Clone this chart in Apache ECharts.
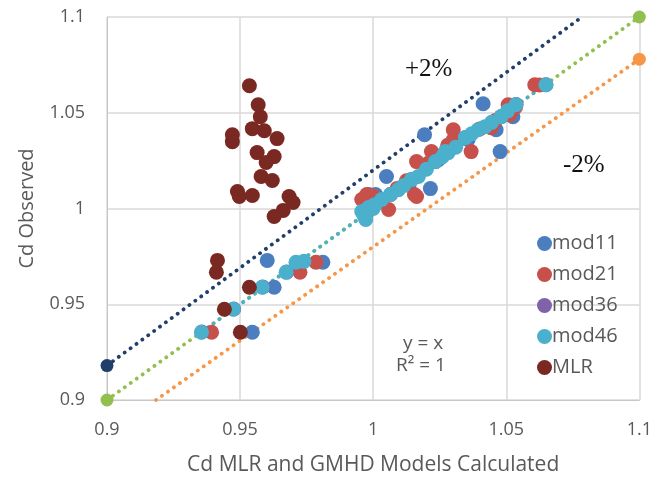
<!DOCTYPE html>
<html>
<head>
<meta charset="utf-8">
<script src="https://cdn.jsdelivr.net/npm/echarts@6/dist/echarts.min.js"></script>
<style>html,body{margin:0;padding:0;background:#fff;}#c{width:655px;height:481px;}</style>
</head>
<body>
<div id="c"></div>
<script>
const xTicks = [0.9, 0.95, 1, 1.05, 1.1];
const yTicks = [0.9, 0.95, 1, 1.05, 1.1];

const mod11 = [[0.9602,0.9729],[0.9628,0.9589],[0.9546,0.9354],[0.9811,0.9719],[1.005,1.0167],[1.0193,1.0385],[1.0413,1.0547],[1.0477,1.0297],[1.0215,1.0104],[1.0525,1.0479],[0.9983,1.0073],[1.002,1.0047],[1.0095,1.0099],[1.0245,1.0255],[1.0357,1.036],[1.0462,1.0411],[1.0649,1.0646],[1.0009,1.0073],[1.0135,1.0125],[1.0285,1.0305]];
const mod21 = [[0.9393,0.9354],[0.9725,0.9667],[0.9785,0.9719],[0.9957,1.0047],[0.9976,1.0073],[1.0058,0.9995],[0.9964,0.9974],[1.0163,1.0245],[1.0219,1.0297],[1.0163,1.0063],[1.0155,1.0073],[1.0301,1.0411],[1.0301,1.0359],[1.0368,1.0297],[1.0443,1.0422],[1.0507,1.0542],[1.0514,1.049],[1.0607,1.0646],[1.0125,1.0145],[1.0,1.0065],[1.009,1.0105],[1.024,1.027],[1.028,1.033],[1.040,1.0415],[1.046,1.046],[1.0535,1.053],[1.0625,1.0645],[0.9975,0.9975],[1.0205,1.0235]];
const mod36 = [[0.9356,0.9355],[0.9476,0.9475],[0.9585,0.959],[0.9675,0.9668],[1.0007,1.0021],[1.0066,1.0074],[1.0145,1.0152],[1.0235,1.0246],[1.0347,1.0371],[1.0481,1.048],[1.0537,1.0543]];
const mod46 = [[0.9355,0.9354],[0.9475,0.9474],[0.9583,0.9589],[0.9673,0.9667],[0.971,0.9719],[0.974,0.9724],[0.9957,0.9984],[0.9983,1.0005],[1.0006,1.002],[1.0032,1.0047],[1.0065,1.0073],[1.0095,1.0099],[1.0144,1.0151],[1.017,1.0167],[1.0234,1.0245],[1.0271,1.0297],[1.0282,1.0292],[1.0346,1.037],[1.0394,1.0411],[1.042,1.0427],[1.048,1.0479],[1.0536,1.0542],[1.0649,1.0646],[0.9972,0.9943],[1.0115,1.012],[1.020,1.0205],[1.026,1.027],[1.031,1.032],[1.037,1.039],[1.0445,1.045],[1.0505,1.051],[1.0,1.0],[0.9965,0.9965]];
const mlr = [[0.9535,1.0641],[0.9568,1.0542],[0.9576,1.0479],[0.9546,1.0417],[0.9591,1.0406],[0.9471,1.0385],[0.9471,1.0349],[0.9639,1.0365],[0.9564,1.0292],[0.9628,1.0271],[0.9598,1.024],[0.9579,1.0167],[0.9621,1.0146],[0.949,1.0089],[0.9497,1.0063],[0.9546,1.0068],[0.9684,1.0063],[0.9699,1.0031],[0.9662,0.999],[0.9628,0.9958],[0.9415,0.9729],[0.9411,0.9667],[0.9535,0.9589],[0.9441,0.9474],[0.9501,0.9354]];

const linePlus2 = [[0.9,0.918],[1.0784,1.1]];
const lineMinus2 = [[0.9184,0.9],[1.1,1.078]];
const lineEqual = [[0.9,0.9],[1.1,1.1]];
const trend46 = [[0.9355,0.9355],[1.0649,1.0649]];

const C = {mod11:'#4a7ebf', mod21:'#c8504b', mod36:'#7f62a8', mod46:'#4bb0cb', mlr:'#7a2822', navy:'#213f6b', green:'#92c050', orange:'#f79646'};
const dotted = (color) => ({color: color, width: 3.8, type: [0.1, 7.2], cap: 'round'});
const gray = '#595959';

const chart = echarts.init(document.getElementById('c'));
chart.setOption({
  animation: false,
  backgroundColor: '#fff',
  grid: {left: 107, right: 13, top: 17, bottom: 80},
  xAxis: {
    type: 'value', min: 0.9, max: 1.1, interval: 0.05,
    name: 'Cd MLR and GMHD Models Calculated', nameLocation: 'middle', nameGap: 55,
    nameTextStyle: {color: gray, fontSize: 21, fontFamily: 'Open Sans'},
    axisLine: {show: true, lineStyle: {color: '#c8c8c8', width: 1}},
    axisTick: {show: false},
    axisLabel: {color: gray, fontSize: 18, fontFamily: 'Open Sans', margin: 21, formatter: v => String(+v.toFixed(2))},
    splitLine: {show: true, lineStyle: {color: '#d9d9d9', width: 1.5}}
  },
  yAxis: {
    type: 'value', min: 0.9, max: 1.1, interval: 0.05,
    name: 'Cd Observed', nameLocation: 'middle', nameGap: 70,
    nameTextStyle: {color: gray, fontSize: 20, fontFamily: 'Open Sans'},
    axisLine: {show: true, lineStyle: {color: '#c8c8c8', width: 1}},
    axisTick: {show: false},
    axisLabel: {color: gray, fontSize: 18, fontFamily: 'Open Sans', margin: 22, formatter: v => String(+v.toFixed(2))},
    splitLine: {show: true, lineStyle: {color: '#d9d9d9', width: 1.5}}
  },
  legend: {
    orient: 'vertical', left: 532, top: 227, itemGap: 8,
    itemWidth: 15, itemHeight: 15, icon: 'circle',
    textStyle: {color: gray, fontSize: 20, fontFamily: 'Open Sans', padding: [0,0,0,-5], lineHeight: 23},
    data: ['mod11','mod21','mod36','mod46','MLR']
  },
  graphic: [
    {type:'text', left: 405, top: 57, style:{text:'+2%', fontSize: 25, fontFamily:'Liberation Serif', fill:'#111'}},
    {type:'text', left: 563, top: 153, style:{text:'-2%', fontSize: 25, fontFamily:'Liberation Serif', fill:'#111'}},
    {type:'text', left: 403, top: 334, style:{text:'y = x', fontSize: 19, fontFamily:'Open Sans', fill: gray}},
    {type:'text', left: 396, top: 356, style:{text:'R² = 1', fontSize: 19, fontFamily:'Open Sans', fill: gray}}
  ],
  series: [
    {type:'line', data: lineEqual, symbol:'circle', symbolSize: 13, itemStyle:{color:C.green}, lineStyle: dotted(C.green), z: 2},
    {type:'line', data: trend46, showSymbol:false, lineStyle: dotted(C.mod46), z: 3},
    {type:'line', data: linePlus2.map((p,i)=>({value:p, symbol: i===0?'circle':'none'})), symbolSize: 13, itemStyle:{color:C.navy}, lineStyle: dotted(C.navy), z: 2},
    {type:'line', data: lineMinus2.map((p,i)=>({value:p, symbol: i===1?'circle':'none'})), symbolSize: 13, itemStyle:{color:C.orange}, lineStyle: dotted(C.orange), z: 2},
    {name:'mod11', type:'scatter', data: mod11, symbolSize: 15, itemStyle:{color:C.mod11, opacity:1}, z: 4},
    {name:'mod21', type:'scatter', data: mod21, symbolSize: 15, itemStyle:{color:C.mod21, opacity:1}, z: 5},
    {name:'mod36', type:'scatter', data: mod36, symbolSize: 15, itemStyle:{color:C.mod36, opacity:1}, z: 5},
    {name:'mod46', type:'scatter', data: mod46, symbolSize: 15, itemStyle:{color:C.mod46, opacity:1}, z: 6},
    {name:'MLR', type:'scatter', data: mlr, symbolSize: 15, itemStyle:{color:C.mlr, opacity:1}, z: 6}
  ]
});
</script>
</body>
</html>
